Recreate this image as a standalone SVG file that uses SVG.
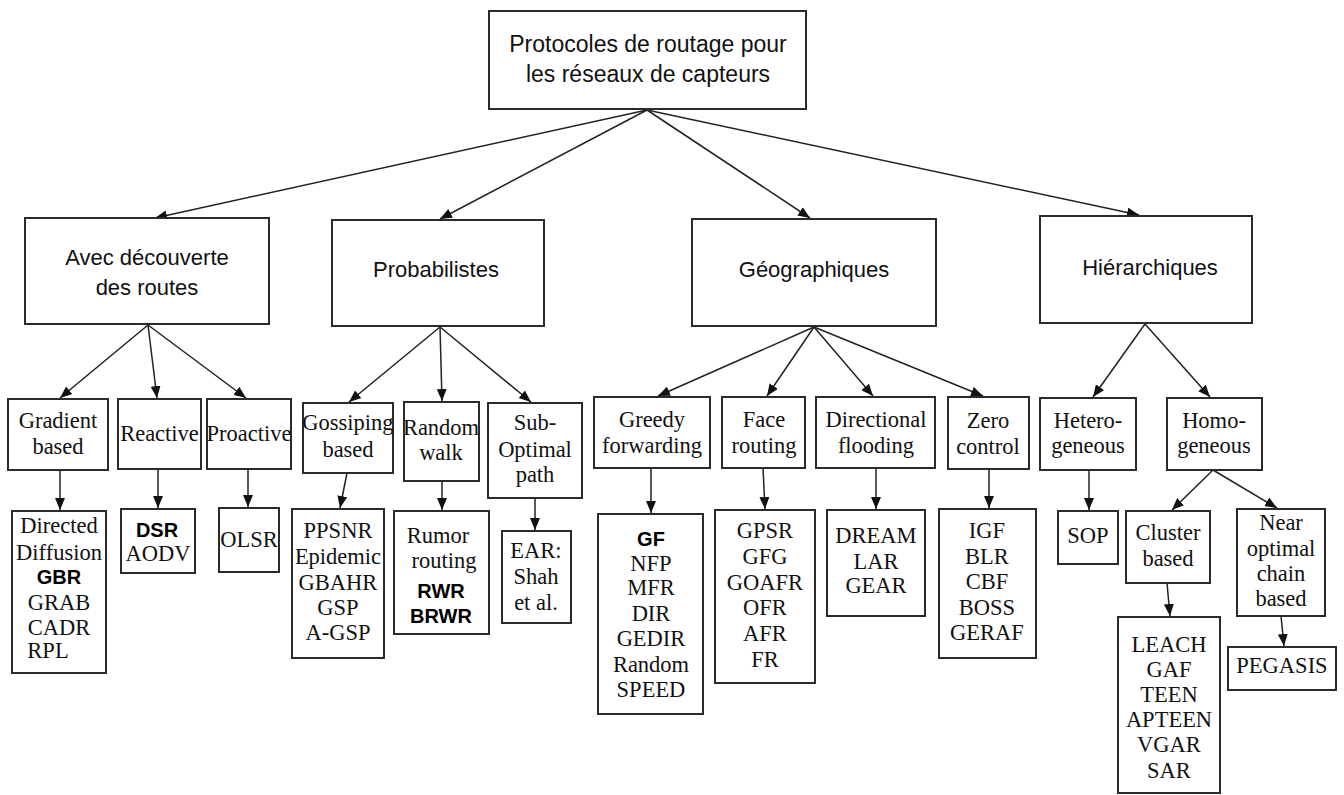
<svg xmlns="http://www.w3.org/2000/svg" width="1344" height="795" viewBox="0 0 1344 795">
<style>
.box{fill:#fff;stroke:#2b2b2b;stroke-width:2}
.t1{font-family:"Liberation Sans",Arial,sans-serif;font-size:22px;fill:#111;text-anchor:middle}
.t0{font-size:23px}
.t2{font-family:"Liberation Serif","Times New Roman",serif;font-size:22.5px;fill:#111;text-anchor:middle}
.tb{font-family:"Liberation Sans",Arial,sans-serif;font-size:20px;font-weight:bold;fill:#000;text-anchor:middle}
.c line{stroke:#222;stroke-width:1.5;marker-end:url(#ah)}
</style>
<defs>
<marker id="ah" viewBox="0 0 12 10" refX="12" refY="5" markerWidth="12" markerHeight="10" markerUnits="userSpaceOnUse" orient="auto">
<path d="M0,0 L12,5 L0,10 z" fill="#111"/>
</marker>
</defs>
<rect width="1344" height="795" fill="#fff"/>
<g class="c" id="connectors">
<line x1="647" y1="110" x2="155" y2="218"/>
<line x1="647" y1="110" x2="440" y2="219"/>
<line x1="647" y1="110" x2="810" y2="218"/>
<line x1="647" y1="110" x2="1139" y2="215"/>
<line x1="148" y1="325" x2="60" y2="398"/>
<line x1="148" y1="325" x2="157" y2="398"/>
<line x1="148" y1="325" x2="246" y2="398"/>
<line x1="60" y1="470" x2="60" y2="510"/>
<line x1="158" y1="469" x2="158" y2="508"/>
<line x1="248" y1="469" x2="248" y2="507"/>
<line x1="440" y1="327" x2="349" y2="402"/>
<line x1="440" y1="327" x2="442" y2="401"/>
<line x1="440" y1="327" x2="531" y2="402"/>
<line x1="347" y1="473" x2="340" y2="508"/>
<line x1="442" y1="481" x2="442" y2="510"/>
<line x1="535" y1="498" x2="535" y2="530"/>
<line x1="814" y1="327" x2="658" y2="396"/>
<line x1="814" y1="327" x2="767" y2="396"/>
<line x1="814" y1="327" x2="873" y2="396"/>
<line x1="814" y1="327" x2="983" y2="396"/>
<line x1="651" y1="468" x2="651" y2="513"/>
<line x1="763" y1="468" x2="765" y2="509"/>
<line x1="876" y1="468" x2="876" y2="509"/>
<line x1="989" y1="469" x2="989" y2="508"/>
<line x1="1145" y1="324" x2="1093" y2="397"/>
<line x1="1145" y1="324" x2="1210" y2="397"/>
<line x1="1089" y1="470" x2="1089" y2="510"/>
<line x1="1213" y1="470" x2="1172" y2="510"/>
<line x1="1213" y1="470" x2="1277" y2="508"/>
<line x1="1167" y1="583" x2="1170" y2="616"/>
<line x1="1281" y1="616" x2="1284" y2="646"/>
</g>
<g id="root"><rect class="box" x="489" y="11" width="317" height="98"/>
<text class="t1 t0" x="648" y="52">Protocoles de routage pour</text>
<text class="t1 t0" x="648" y="82">les réseaux de capteurs</text></g>
<g id="avec"><rect class="box" x="25" y="218" width="244" height="106"/>
<text class="t1" x="147" y="265">Avec découverte</text>
<text class="t1" x="147" y="295">des routes</text></g>
<g id="proba"><rect class="box" x="332" y="220" width="212" height="106"/>
<text class="t1" x="436" y="277">Probabilistes</text></g>
<g id="geo"><rect class="box" x="692" y="219" width="244" height="107"/>
<text class="t1" x="814" y="277">Géographiques</text></g>
<g id="hier"><rect class="box" x="1040" y="216" width="212" height="107"/>
<text class="t1" x="1150" y="275">Hiérarchiques</text></g>

<g id="gradient"><rect class="box" x="8" y="399" width="100" height="71"/>
<text class="t2" x="58" y="428">Gradient</text><text class="t2" x="58" y="454">based</text></g>
<g id="reactive"><rect class="box" x="118" y="399" width="83" height="70"/>
<text class="t2" x="159.5" y="441">Reactive</text></g>
<g id="proactive"><rect class="box" x="207" y="399" width="84" height="70"/>
<text class="t2" x="249" y="441">Proactive</text></g>
<g id="directed"><rect class="box" x="12" y="511" width="94" height="162"/>
<text class="t2" x="59" y="533">Directed</text>
<text class="t2" x="59" y="560">Diffusion</text>
<text class="tb" x="59" y="584">GBR</text>
<text class="t2" x="59" y="610">GRAB</text>
<text class="t2" x="59" y="635">CADR</text>
<text class="t2" x="48" y="658">RPL</text></g>
<g id="dsr"><rect class="box" x="121" y="509" width="74" height="64"/>
<text class="tb" x="157" y="537">DSR</text>
<text class="t2" x="158" y="561">AODV</text></g>
<g id="olsr"><rect class="box" x="219" y="508" width="60" height="64"/>
<text class="t2" x="249" y="547">OLSR</text></g>

<g id="gossip"><rect class="box" x="303" y="403" width="90" height="70"/>
<text class="t2" x="348" y="430">Gossiping</text><text class="t2" x="348" y="457">based</text></g>
<g id="random"><rect class="box" x="404" y="402" width="75" height="79"/>
<text class="t2" x="441" y="435">Random</text><text class="t2" x="441" y="460">walk</text></g>
<g id="sub"><rect class="box" x="488" y="403" width="94" height="95"/>
<text class="t2" x="535" y="430">Sub-</text><text class="t2" x="535" y="457">Optimal</text><text class="t2" x="535" y="482">path</text></g>
<g id="ppsnr"><rect class="box" x="292" y="509" width="92" height="149"/>
<text class="t2" x="338" y="538">PPSNR</text>
<text class="t2" x="338" y="564">Epidemic</text>
<text class="t2" x="338" y="590">GBAHR</text>
<text class="t2" x="338" y="615">GSP</text>
<text class="t2" x="338" y="640">A-GSP</text></g>
<g id="rumor"><rect class="box" x="394" y="511" width="95" height="123"/>
<text class="t2" x="438" y="543">Rumor</text>
<text class="t2" x="444" y="568">routing</text>
<text class="tb" x="441" y="598">RWR</text>
<text class="tb" x="441" y="623">BRWR</text></g>
<g id="ear"><rect class="box" x="502" y="531" width="69" height="92"/>
<text class="t2" x="536" y="558">EAR:</text>
<text class="t2" x="536" y="584">Shah</text>
<text class="t2" x="536" y="610">et al.</text></g>

<g id="greedy"><rect class="box" x="594" y="397" width="116" height="71"/>
<text class="t2" x="652" y="427">Greedy</text><text class="t2" x="652" y="453">forwarding</text></g>
<g id="face"><rect class="box" x="722" y="397" width="83" height="71"/>
<text class="t2" x="764" y="427">Face</text><text class="t2" x="764" y="453">routing</text></g>
<g id="dirf"><rect class="box" x="816" y="397" width="119" height="71"/>
<text class="t2" x="876" y="427">Directional</text><text class="t2" x="876" y="453">flooding</text></g>
<g id="zero"><rect class="box" x="948" y="397" width="81" height="72"/>
<text class="t2" x="988" y="428">Zero</text><text class="t2" x="988" y="454">control</text></g>
<g id="gf"><rect class="box" x="598" y="514" width="105" height="200"/>
<text class="tb" x="651" y="546">GF</text>
<text class="t2" x="651" y="571">NFP</text>
<text class="t2" x="651" y="595">MFR</text>
<text class="t2" x="651" y="621">DIR</text>
<text class="t2" x="651" y="646">GEDIR</text>
<text class="t2" x="651" y="672">Random</text>
<text class="t2" x="651" y="697">SPEED</text></g>
<g id="gpsr"><rect class="box" x="715" y="510" width="100" height="173"/>
<text class="t2" x="765" y="538">GPSR</text>
<text class="t2" x="765" y="564">GFG</text>
<text class="t2" x="765" y="590">GOAFR</text>
<text class="t2" x="765" y="615">OFR</text>
<text class="t2" x="765" y="641">AFR</text>
<text class="t2" x="765" y="667">FR</text></g>
<g id="dream"><rect class="box" x="827" y="510" width="98" height="106"/>
<text class="t2" x="876" y="543">DREAM</text>
<text class="t2" x="876" y="569">LAR</text>
<text class="t2" x="876" y="593">GEAR</text></g>
<g id="igf"><rect class="box" x="939" y="509" width="97" height="149"/>
<text class="t2" x="987" y="538">IGF</text>
<text class="t2" x="987" y="564">BLR</text>
<text class="t2" x="987" y="589">CBF</text>
<text class="t2" x="987" y="615">BOSS</text>
<text class="t2" x="987" y="640">GERAF</text></g>

<g id="hetero"><rect class="box" x="1040" y="398" width="96" height="72"/>
<text class="t2" x="1088" y="428">Hetero-</text><text class="t2" x="1088" y="453">geneous</text></g>
<g id="homo"><rect class="box" x="1167" y="398" width="95" height="72"/>
<text class="t2" x="1214" y="428">Homo-</text><text class="t2" x="1214" y="453">geneous</text></g>
<g id="sop"><rect class="box" x="1058" y="511" width="60" height="53"/>
<text class="t2" x="1088" y="543">SOP</text></g>
<g id="cluster"><rect class="box" x="1126" y="511" width="84" height="72"/>
<text class="t2" x="1168" y="540">Cluster</text><text class="t2" x="1168" y="566">based</text></g>
<g id="near"><rect class="box" x="1237" y="509" width="88" height="107"/>
<text class="t2" x="1281" y="530">Near</text>
<text class="t2" x="1281" y="556">optimal</text>
<text class="t2" x="1281" y="581">chain</text>
<text class="t2" x="1281" y="606">based</text></g>
<g id="leach"><rect class="box" x="1118" y="617" width="102" height="176"/>
<text class="t2" x="1169" y="652">LEACH</text>
<text class="t2" x="1169" y="677">GAF</text>
<text class="t2" x="1169" y="702">TEEN</text>
<text class="t2" x="1169" y="727">APTEEN</text>
<text class="t2" x="1169" y="752">VGAR</text>
<text class="t2" x="1169" y="778">SAR</text></g>
<g id="pegasis"><rect class="box" x="1228" y="647" width="108" height="43"/>
<text class="t2" x="1282" y="673">PEGASIS</text></g>
</svg>
